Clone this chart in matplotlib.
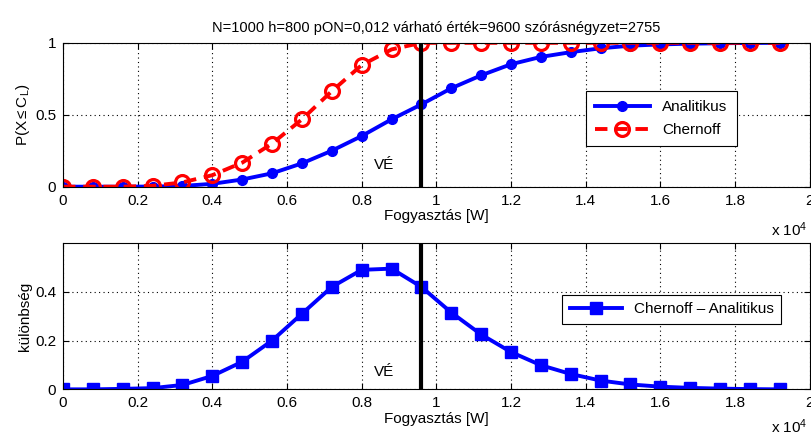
import numpy as np
import matplotlib
matplotlib.use("Agg")
import matplotlib.pyplot as plt

plt.rcParams['font.family'] = ['Liberation Sans', 'DejaVu Sans']
plt.rcParams['mathtext.fontset'] = 'custom'
plt.rcParams['mathtext.rm'] = 'Liberation Sans'
plt.rcParams['mathtext.it'] = 'Liberation Sans:italic'
plt.rcParams['font.size'] = 11

# Data
x = [0, 800, 1600, 2400, 3200, 4000, 4800, 5600, 6400, 7200, 8000, 8800, 9600,
     10400, 11200, 12000, 12800, 13600, 14400, 15200, 16000, 16800, 17600, 18400, 19200]
analitikus = [0, 0, 0, 0.001, 0.005, 0.02, 0.05, 0.093, 0.162, 0.25, 0.352, 0.468, 0.572,
              0.684, 0.774, 0.851, 0.902, 0.935, 0.962, 0.98, 0.989, 0.994, 0.997, 0.999, 1.0]
chernoff = [0, 0, 0, 0.006, 0.03, 0.08, 0.167, 0.30, 0.468, 0.664, 0.845, 0.954, 1.0,
            1.0, 1.0, 1.0, 1.0, 1.0, 1.0, 1.0, 1.0, 1.0, 1.0, 1.0, 1.0]
kulonbseg = [0, 0, 0.002, 0.005, 0.018, 0.055, 0.113, 0.2, 0.31, 0.42, 0.49, 0.495, 0.42,
             0.315, 0.225, 0.153, 0.099, 0.063, 0.036, 0.02, 0.011, 0.006, 0.003, 0.001, 0.0]
varhato = 9600
xticks = [0, 2000, 4000, 6000, 8000, 10000, 12000, 14000, 16000, 18000, 20000]
xticklabels = ['0', '0.2', '0.4', '0.6', '0.8', '1', '1.2', '1.4', '1.6', '1.8', '2']

fig = plt.figure(figsize=(8.12, 4.36), dpi=100)
ax1 = fig.add_axes([0.0776, 0.5718, 0.9195, 0.330])
ax2 = fig.add_axes([0.0776, 0.107, 0.9195, 0.3356])

def style(ax, exp_y):
    ax.set_xlim(0, 20000)
    ax.set_xticks(xticks)
    ax.set_xticklabels(xticklabels)
    ax.grid(True, color='black', linestyle=(0, (1, 3)), linewidth=0.8)
    ax.tick_params(direction='in', top=True, right=True, length=4, pad=5)
    for s in ax.spines.values():
        s.set_linewidth(0.8)
    ax.set_xlabel('Fogyasztás [W]', labelpad=1)
    ax.text(0.997, exp_y, r'x 10$^4$', transform=ax.transAxes, ha='right', va='top')

# top plot
ax1.plot(x, analitikus, '-', color='blue', lw=2.8, marker='o', ms=7, label='Analitikus')
ax1.plot(x, chernoff, '--', color='red', lw=2.8, marker='o', ms=10, mfc='none',
         mew=2.3, dashes=(3.2, 2), label='Chernoff')
ax1.axvline(varhato, color='black', lw=3)
ax1.text(8600, 0.15, 'VÉ', ha='center', va='center')
ax1.set_ylim(0, 1)
ax1.set_yticks([0, 0.5, 1])
ax1.set_yticklabels(['0', '0.5', '1'])
ax1.set_ylabel(r'P(X$\leq$C$_\mathrm{L}$)', labelpad=2)
style(ax1, -0.235)
leg1 = ax1.legend(loc='upper left', bbox_to_anchor=(0.69, 0.72), fancybox=False,
                  edgecolor='black', framealpha=1, handlelength=3.6, borderpad=0.6,
                  labelspacing=0.6)
leg1.get_frame().set_linewidth(0.8)
ax1.set_title('N=1000 h=800 pON=0,012 várható érték=9600 szórásnégyzet=2755',
              fontsize=10.5, pad=8)

# bottom plot
ax2.plot(x, kulonbseg, '-', color='blue', lw=2.8, marker='s', ms=9,
         label='Chernoff – Analitikus')
ax2.axvline(varhato, color='black', lw=3)
ax2.text(8600, 0.073, 'VÉ', ha='center', va='center')
ax2.set_ylim(0, 0.6)
ax2.set_yticks([0, 0.2, 0.4])
ax2.set_yticklabels(['0', '0.2', '0.4'])
ax2.set_ylabel('különbség', labelpad=2)
style(ax2, -0.19)
leg2 = ax2.legend(loc='upper left', bbox_to_anchor=(0.658, 0.70), fancybox=False,
                  edgecolor='black', framealpha=1, handlelength=3.4, borderpad=0.5)
leg2.get_frame().set_linewidth(0.8)

fig.savefig('out.png', dpi=100)
